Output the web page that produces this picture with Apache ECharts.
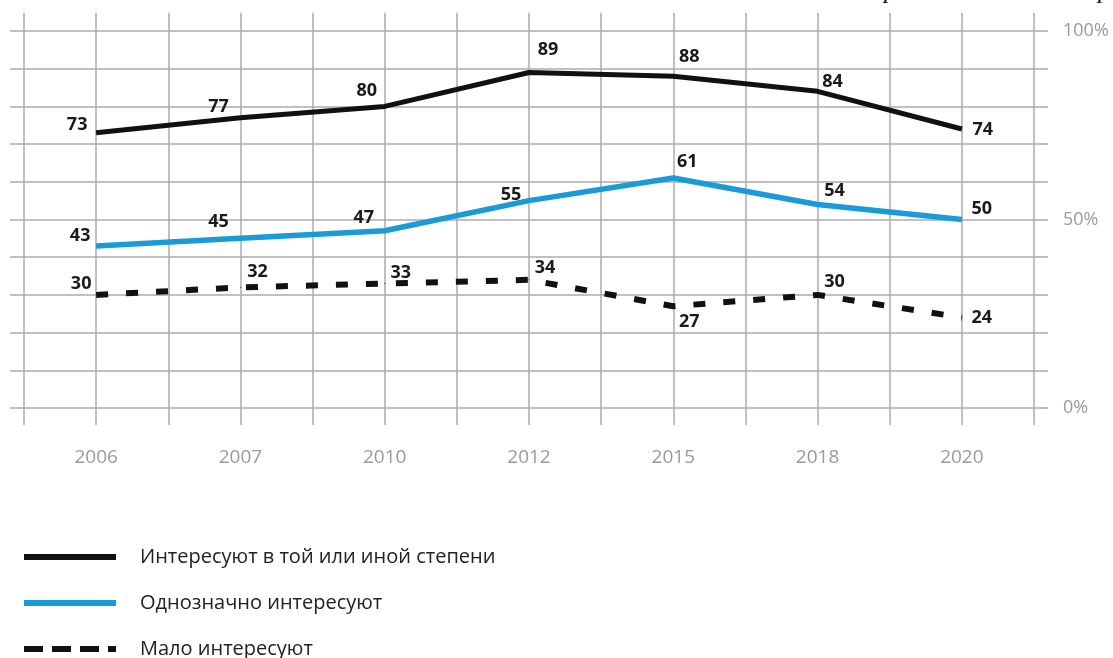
<!DOCTYPE html>
<html><head><meta charset="utf-8">
<script src="https://cdn.jsdelivr.net/npm/echarts@6/dist/echarts.min.js"></script>
<style>html,body{margin:0;padding:0;background:#fff}#c{width:1113px;height:658px}</style>
</head><body><div id="c"></div>
<script>
var years = ['2006','2007','2010','2012','2015','2018','2020'];
var nameA = 'Интересуют в той или иной степени';
var nameB = 'Однозначно интересуют';
var nameC = 'Мало интересуют';
var valuesA = [73, 77, 80, 89, 88, 84, 74];
var valuesB = [43, 45, 47, 55, 61, 54, 50];
var valuesC = [30, 32, 33, 34, 27, 30, 24];
var yTickLabels = {0: '0%', 50: '50%', 100: '100%'};

// label offsets (style only)
var offA = [[-19,-8],[-22,-11],[-18,-16],[19,-23],[16,-19],[15,-9],[21,1]];
var offB = [[-16,-10],[-22,-16],[-21,-13],[-18,-6],[14,-16],[17,-14],[20,-11]];
var offC = [[-15,-11],[17,-15],[16,-11],[16,-12],[16,16],[17,-13],[20,0]];

var FONT = '"Open Sans", "DejaVu Sans", sans-serif';
function build(vals, offs) {
  return vals.map(function (v, i) {
    return { value: [i, v], label: { offset: offs[i] } };
  });
}
function mk(name, vals, offs, color, lw, type) {
  return {
    name: name, type: 'line', data: build(vals, offs),
    symbol: 'circle', symbolSize: 1, showSymbol: true,
    itemStyle: { color: color },
    lineStyle: { color: color, width: lw, type: type, cap: 'butt' },
    label: { show: true, position: 'inside', color: '#1a1a1a', fontFamily: FONT,
      fontWeight: 'bold', fontSize: 18, formatter: function (p) { return p.value[1]; } },
    emphasis: { disabled: true }, animation: false, z: 3
  };
}
var chart = echarts.init(document.getElementById('c'), null, { renderer: 'canvas' });
var gridLine = { show: true, lineStyle: { color: '#ababab', width: 1.5 } };
var tickStyle = { color: '#ababab', width: 1.5 };
chart.setOption({
  backgroundColor: '#fff',
  animation: false,
  grid: { left: 24, right: 79, top: 31, bottom: 250 },
  xAxis: [{
    type: 'value', min: -0.5, max: 6.5, interval: 0.5, position: 'bottom',
    axisLine: { show: false, onZero: false },
    axisTick: { show: true, length: 17, inside: false, lineStyle: tickStyle },
    splitLine: gridLine,
    axisLabel: { show: true, margin: 40, color: '#9a9a9a', fontSize: 19, fontFamily: FONT,
      showMinLabel: true, showMaxLabel: true,
      formatter: function (v) { return (Math.abs(v - Math.round(v)) < 1e-6 && v >= 0 && v < years.length) ? years[Math.round(v)] : ''; } }
  }, {
    type: 'value', min: -0.5, max: 6.5, interval: 0.5, position: 'top',
    axisLine: { show: false, onZero: false },
    axisTick: { show: true, length: 18, lineStyle: tickStyle },
    splitLine: { show: false }, axisLabel: { show: false }
  }],
  yAxis: [{
    type: 'value', min: 0, max: 100, interval: 10, position: 'right',
    axisLine: { show: false, onZero: false },
    axisTick: { show: true, length: 14, lineStyle: tickStyle },
    splitLine: gridLine,
    axisLabel: { show: true, margin: 29, color: '#9a9a9a', fontSize: 18, fontFamily: FONT,
      formatter: function (v) { return yTickLabels[v] || ''; } }
  }, {
    type: 'value', min: 0, max: 100, interval: 10, position: 'left',
    axisLine: { show: false, onZero: false },
    axisTick: { show: true, length: 14, lineStyle: tickStyle },
    splitLine: { show: false }, axisLabel: { show: false }
  }],
  legend: {
    orient: 'vertical', left: 21, top: 547, height: 120, padding: 0,
    itemWidth: 92, itemHeight: 20, itemGap: 26,
    data: [nameA, nameB, { name: nameC, lineStyle: { type: [19, 9] } }],
    lineStyle: { width: 6 },
    itemStyle: { opacity: 0 },
    textStyle: { fontFamily: FONT, fontSize: 20, color: '#222', padding: [0, 0, 0, 19] },
    selectedMode: false
  },
  graphic: [
    { type: 'text', left: 884, top: -22, style: { text: 'р', font: 'italic 26px "Liberation Serif"', fill: '#111' } },
    { type: 'text', left: 1098, top: -22, style: { text: 'р', font: 'italic 26px "Liberation Serif"', fill: '#111' } }
  ],
  series: [
    mk(nameA, valuesA, offA, '#111111', 5, 'solid'),
    mk(nameB, valuesB, offB, '#1a9ad6', 5.5, 'solid'),
    mk(nameC, valuesC, offC, '#111111', 6, [12, 18])
  ]
});
</script></body></html>
